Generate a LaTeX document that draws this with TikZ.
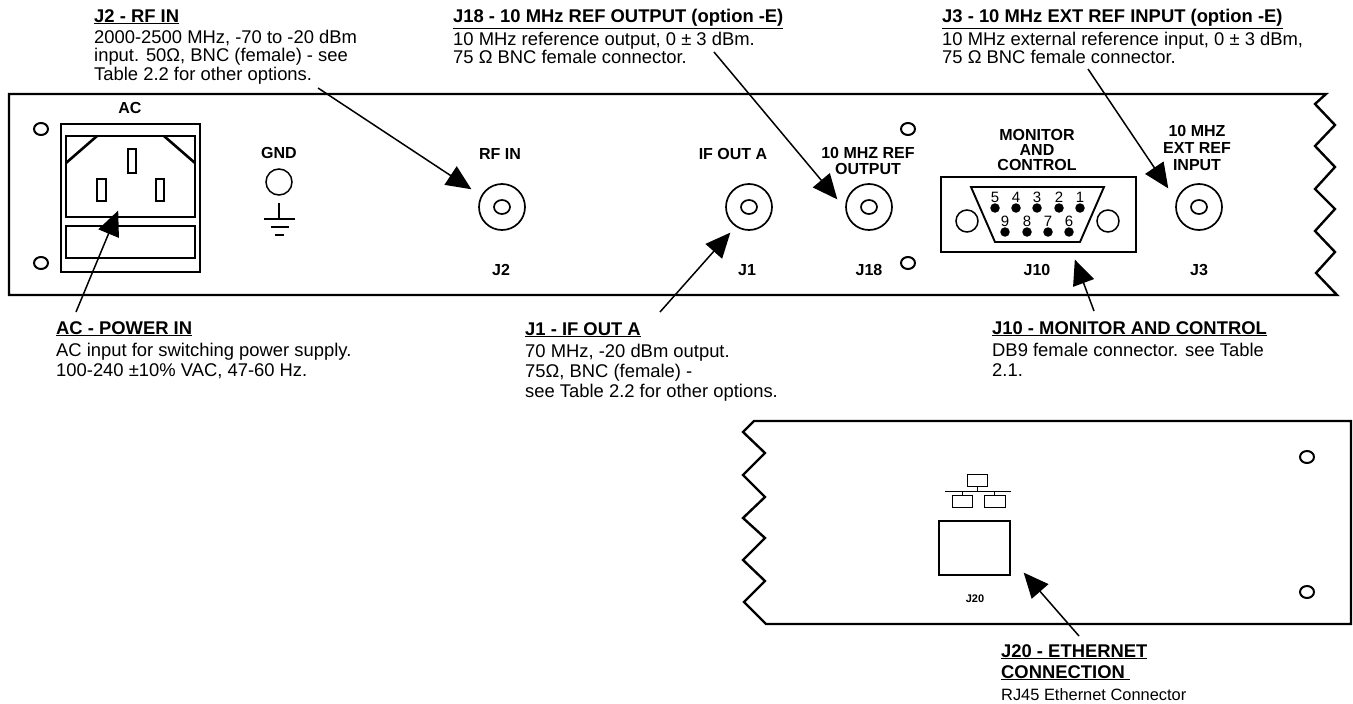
\documentclass[tikz,border=0pt]{standalone}
\usepackage{fontspec}
\setmainfont{Liberation Sans}
\usetikzlibrary{arrows.meta,shapes.geometric}
\tikzset{
  arrowDecorate/.style={-{Triangle[length=25pt,width=22pt]},line width=1.5pt,shorten >=-0.5pt},
  panelDecorate/.style={draw,line width=2.4pt,line join=miter},
  partDecorate/.style={draw,line width=1.9pt},
  screwDecorate/.style={shape=ellipse,draw,line width=2pt,minimum width=14pt,minimum height=12pt,inner sep=0pt},
  pinDecorate/.style={shape=circle,fill,minimum size=9.5pt,inner sep=0pt},
  outerDecorate/.style={shape=circle,draw,line width=1.7pt,minimum size=46pt,inner sep=0pt},
  innerDecorate/.style={shape=ellipse,draw,line width=1.7pt,minimum width=16pt,minimum height=14pt,inner sep=0pt},
  partLabel/.style={font=\fontsize{16}{16}\selectfont\bfseries,align=center,inner sep=0pt},
  calloutText/.style={font=\fontsize{18.4}{18.5}\selectfont,align=left,anchor=north west,inner sep=0pt},
  calloutWide/.style={calloutText,font=\fontsize{18.4}{20}\selectfont}
}
\begin{document}
\begin{tikzpicture}[x=1pt,y=-1pt]
\useasboundingbox (0,0) rectangle (1353,704);
%% panels
\draw[panelDecorate] (1326,94) -- (9,94) -- (9,295) -- (1337,295) -- (1316,273) -- (1335,252) -- (1315,231)
  -- (1335,209) -- (1315,189) -- (1335,167) -- (1315,146) -- (1335,125) -- (1315,104) -- cycle;
\draw[panelDecorate] (754,421) -- (1351,421) -- (1351,624) -- (766,624) -- (744,602) -- (765,581) -- (743,560)
  -- (765,538) -- (743,518) -- (765,497) -- (743,475) -- (765,453) -- (743,432) -- cycle;
%% screws
\foreach \nodename/\x/\y in {
  screwa/41/129, screwb/41/263, screwc/908/129, screwd/908/263, screwe/1307/457, screwf/1307/592}
{
  \node (\nodename) at (\x,\y) [screwDecorate] {};
}
%% power socket
\draw[partDecorate] (61,124) rectangle (200,272);
\draw[partDecorate] (66,136) rectangle (195,217);
\draw[partDecorate] (66,226) rectangle (195,258);
\draw[partDecorate,line width=2.6pt] (66,163) -- (97,136);
\draw[partDecorate,line width=2.6pt] (164,136) -- (195,163);
\draw[partDecorate] (128,149) rectangle (136,173);
\draw[partDecorate] (97,179) rectangle (106,201);
\draw[partDecorate] (156,179) rectangle (164,201);
%% ground
\node (gndring) at (279,182) [shape=circle,draw,line width=1.5pt,minimum size=26pt,inner sep=0pt] {};
\draw[line width=1.5pt] (279,203) -- (279,219) (264,219) -- (295,219) (271,227) -- (289,227) (275,235) -- (284,235);
%% bnc connectors
\foreach \nodename/\x in {rfin/502, ifout/749, refout/869, refin/1199}
{
  \node (\nodename) at (\x,207) [outerDecorate] {};
  \node at (\x,207) [innerDecorate] {};
}
%% monitor and control
\draw[partDecorate] (941,177) rectangle (1136,252);
\draw[partDecorate] (971,187) -- (1104,187) -- (1080,242) -- (995,242) -- cycle;
\node (dbleft) at (967,221) [shape=circle,draw,line width=1.5pt,minimum size=22pt,inner sep=0pt] {};
\node (dbright) at (1108,221) [shape=circle,draw,line width=1.5pt,minimum size=22pt,inner sep=0pt] {};
\foreach \pinlabel/\x/\y in {
  5/995/208, 4/1016/208, 3/1037/208, 2/1059/208, 1/1080/208,
  9/1005/232, 8/1027/232, 7/1048/232, 6/1069/232}
{
  \node (pin\pinlabel) at (\x,\y) [pinDecorate] {};
  \node [font=\fontsize{15}{15}\selectfont,inner sep=0pt] at (\x,\y-11) {\pinlabel};
}
%% ethernet
\draw[line width=1pt] (967,474) rectangle (987,486);
\draw[line width=1pt] (952,495) rectangle (972,507);
\draw[line width=1pt] (984,495) rectangle (1005,507);
\draw[line width=1pt] (945,491) -- (1011,491) (977,486) -- (977,491) (962,491) -- (962,495) (994,491) -- (994,495);
\draw[line width=2.2pt] (939,521) rectangle (1010,575);
%% part labels
\foreach \nodename/\x/\y/\partname in {
  lac/130/108/AC, lgnd/279/153/GND, lrf/500/154/RF IN, lif/733/154/IF OUT A,
  lref/868/161/{10 MHZ REF\\OUTPUT}, lmon/1037/150/{MONITOR\\[-1pt]AND\\[-1pt]CONTROL},
  lext/1197/148/{10 MHZ\\[1pt]EXT REF\\[1pt]INPUT},
  ljb/501/270/J2, lja/747/270/J1, ljr/869/270/J18, ljm/1037/270/J10, lje/1199/270/J3}
{
  \node (\nodename) at (\x,\y) [partLabel] {\partname};
}
\node (ljn) at (975,599) [partLabel,font=\fontsize{11}{11}\selectfont\bfseries] {J20};
%% callouts
\node (trf) at (94,9) [calloutText] {\textbf{\underline{J2 - RF IN}}\\[2.5pt]2000-2500 MHz, -70 to -20 dBm\\input. 50Ω, BNC (female) - see\\Table 2.2 for other options.};
\node (tref) at (453,9) [calloutText] {\textbf{\underline{J18 - 10 MHz REF OUTPUT (option -E)}}\\[2.5pt]10 MHz reference output, 0 ± 3 dBm.\\75 Ω BNC female connector.};
\node (text) at (942,9) [calloutText] {\textbf{\underline{J3 - 10 MHz EXT REF INPUT (option -E)}}\\[2.5pt]10 MHz external reference input, 0 ± 3 dBm,\\75 Ω BNC female connector.};
\node (tac) at (56,321) [calloutWide] {\textbf{\underline{AC - POWER IN}}\\[2.5pt]AC input for switching power supply.\\100-240 ±10\% VAC, 47-60 Hz.};
\node (tif) at (525,322) [calloutWide] {\textbf{\underline{J1 - IF OUT A}}\\[2.5pt]70 MHz, -20 dBm output.\\75Ω, BNC (female) -\\see Table 2.2 for other options.};
\node (tmon) at (992,321) [calloutWide] {\textbf{\underline{J10 - MONITOR AND CONTROL}}\\[2.5pt]DB9 female connector.  see Table\\2.1.};
\node (teth) at (1001,644) [calloutText] {\textbf{\underline{J20 - ETHERNET}}\\[2.5pt]\textbf{\underline{CONNECTION\ }}\\[4pt]\fontsize{16.4}{17}\selectfont RJ45 Ethernet Connector};
%% arrows
\foreach \startname/\sx/\sy/\endname/\ex/\ey in {
  sac/76/312/eac/118/211, srf/318/88/erf/471/189, sre/714/52/ere/837/199,
  sex/1088/69/eex/1168/188, sif/660/312/eif/730/233, smo/1094/311/emo/1075/260,
  set/1079/636/eet/1024/573}
{
  \coordinate (\startname) at (\sx,\sy);
  \coordinate (\endname) at (\ex,\ey);
  \draw[arrowDecorate] (\startname) -- (\endname);
}
\end{tikzpicture}
\end{document}
